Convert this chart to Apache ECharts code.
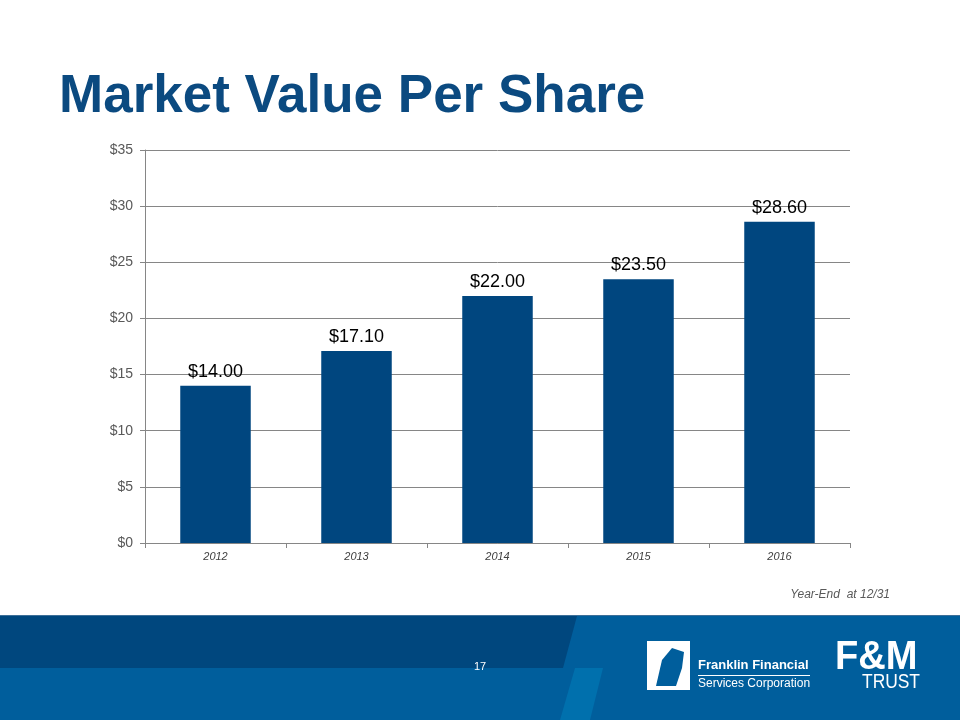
<!DOCTYPE html>
<html>
<head>
<meta charset="utf-8">
<script src="https://cdn.jsdelivr.net/npm/echarts@6/dist/echarts.min.js"></script>
<style>
html,body{margin:0;padding:0;background:#fff;}
#chart{width:960px;height:720px;}
</style>
</head>
<body>
<div id="chart"></div>
<script>
const categories = ['2012', '2013', '2014', '2015', '2016'];
const values = [14.00, 17.10, 22.00, 23.50, 28.60];
const yTicks = [0, 5, 10, 15, 20, 25, 30, 35];
const titleText = 'Market Value Per Share';
const noteText = 'Year-End  at 12/31';
const pageNumber = '17';

const chart = echarts.init(document.getElementById('chart'), null, {renderer: 'canvas'});
const font = 'Liberation Sans, Arial, sans-serif';

chart.setOption({
  animation: false,
  backgroundColor: '#ffffff',
  grid: {left: 145, right: 110, top: 150, bottom: 177, containLabel: false},
  xAxis: {
    type: 'category',
    data: categories,
    axisLine: {lineStyle: {color: '#868686', width: 1}},
    axisTick: {show: true, length: 5, lineStyle: {color: '#868686'}},
    axisLabel: {color: '#404040', fontSize: 11, fontStyle: 'italic', fontFamily: font, margin: 8}
  },
  yAxis: {
    type: 'value',
    min: yTicks[0],
    max: yTicks[yTicks.length - 1],
    interval: 5,
    axisLine: {show: true, lineStyle: {color: '#868686', width: 1}},
    axisTick: {show: true, length: 5, lineStyle: {color: '#868686'}},
    splitLine: {show: true, lineStyle: {color: '#868686', width: 1}},
    axisLabel: {color: '#595959', fontSize: 14, fontFamily: font, margin: 12,
      formatter: v => '$' + v}
  },
  series: [{
    type: 'bar',
    data: values,
    barWidth: '50%',
    itemStyle: {color: '#00467f'},
    label: {
      show: true, position: 'top', distance: 5,
      color: '#000000', fontSize: 18, fontFamily: font,
      formatter: p => '$' + p.value.toFixed(2)
    }
  }],
  graphic: [
    {type: 'text', left: 59, top: 71, style: {text: titleText, fill: '#0b4a80', font: 'bold 53px ' + font}},
    {type: 'text', right: 70, top: 589, style: {text: noteText, fill: '#595959', font: 'italic 12px ' + font}},
    // footer bands
    {type: 'rect', shape: {x: 0, y: 615, width: 960, height: 105}, style: {fill: '#005e9c'}},
    {type: 'polygon', shape: {points: [[0, 616], [577, 616], [563, 668], [0, 668]]}, style: {fill: '#00477e'}},
    {type: 'rect', shape: {x: 0, y: 615, width: 960, height: 1}, style: {fill: '#3d6f98'}},
    {type: 'polygon', shape: {points: [[575, 668], [603, 668], [590, 720], [560, 720]]}, style: {fill: '#0070ad'}},
    {type: 'text', left: 474, top: 661, style: {text: pageNumber, fill: '#ffffff', font: '11px ' + font}},
    // Franklin Financial logo
    {type: 'rect', shape: {x: 647, y: 641, width: 43, height: 49}, style: {fill: '#ffffff'}},
    {type: 'polygon', shape: {points: [[656, 686], [662, 660], [672, 648], [684, 652], [682, 668], [676, 686]]}, style: {fill: '#005e9c'}},
    {type: 'text', left: 698, top: 659, style: {text: 'Franklin Financial', fill: '#ffffff', font: 'bold 13px ' + font}},
    {type: 'rect', shape: {x: 698, y: 675, width: 112, height: 1}, style: {fill: '#ffffff'}},
    {type: 'text', left: 698, top: 678, style: {text: 'Services Corporation', fill: '#ffffff', font: '12px ' + font}},
    // F&M Trust logo
    {type: 'text', x: 835, y: 637, scaleX: 0.93, style: {text: 'F&M', fill: '#ffffff', font: 'bold 41px ' + font}},
    {type: 'text', x: 862, y: 672, scaleX: 0.87, style: {text: 'TRUST', fill: '#ffffff', font: '20px ' + font}}
  ]
});
</script>
</body>
</html>
